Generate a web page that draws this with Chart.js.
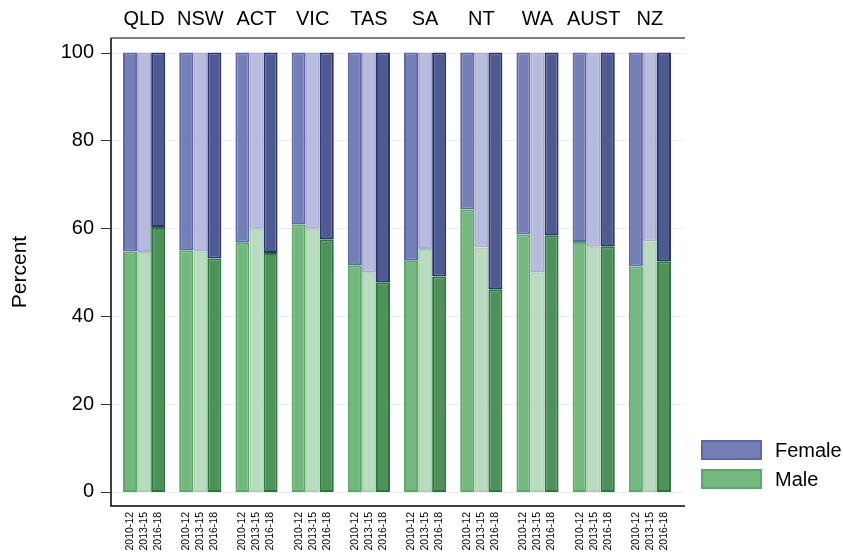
<!DOCTYPE html>
<html>
<head>
<meta charset="utf-8">
<script src="https://cdn.jsdelivr.net/npm/chart.js@4"></script>
<style>
  body { margin: 0; background: #fff; }
  #wrap { width: 843px; height: 554px; }
</style>
</head>
<body>
<div id="wrap"><canvas id="chart" width="843" height="554"></canvas></div>
<script>
const categories = ['QLD', 'NSW', 'ACT', 'VIC', 'TAS', 'SA', 'NT', 'WA', 'AUST', 'NZ'];
const periods = ['2010-12', '2013-15', '2016-18'];

const male2010 = [54.7, 55.0, 56.7, 60.9, 51.6, 52.6, 64.3, 58.6, 56.9, 51.3];
const male2013 = [54.6, 54.8, 59.9, 59.9, 49.9, 55.3, 55.6, 50.0, 55.8, 57.0];
const male2016 = [60.3, 53.1, 54.4, 57.5, 47.7, 49.0, 46.1, 58.4, 55.9, 52.5];

const female2010 = [45.3, 45.0, 43.3, 39.1, 48.4, 47.4, 35.7, 41.4, 43.1, 48.7];
const female2013 = [45.4, 45.2, 40.1, 40.1, 50.1, 44.7, 44.4, 50.0, 44.2, 43.0];
const female2016 = [39.7, 46.9, 45.6, 42.5, 52.3, 51.0, 53.9, 41.6, 44.1, 47.5];

const yTicks = [0, 20, 40, 60, 80, 100];

const FONT = "'Liberation Sans', Arial, sans-serif";

// colours per period: [male fill, male border, female fill, female border]
const colours = [
    ['#74b77f', '#5aa967', '#7480b5', '#5b67a8'],
    ['#badbc0', '#a8d2b0', '#b8bcdc', '#a6aad2'],
    ['#4f9259', '#27763a', '#4e5b92', '#29346f']
];

const maleData = [male2010, male2013, male2016];
const femaleData = [female2010, female2013, female2016];

const datasets = [];
periods.forEach((p, i) => {
    datasets.push({
        label: 'Male',
        period: p,
        data: maleData[i],
        stack: p,
        backgroundColor: colours[i][0],
        borderColor: colours[i][1],
        borderWidth: 2,
        borderSkipped: false
    });
    datasets.push({
        label: 'Female',
        period: p,
        data: femaleData[i],
        stack: p,
        backgroundColor: colours[i][2],
        borderColor: colours[i][3],
        borderWidth: 2,
        borderSkipped: false
    });
});

const FRAME_L = 111, FRAME_R = 685;

const decorations = {
    id: 'decorations',
    beforeDatasetsDraw(chart) {
        const c = chart.ctx;
        const y = chart.scales.y;
        c.save();
        c.strokeStyle = '#e9f1f1';
        c.lineWidth = 1;
        yTicks.forEach(t => {
            const py = Math.round(y.getPixelForValue(t)) + 0.5;
            c.beginPath();
            c.moveTo(FRAME_L, py);
            c.lineTo(FRAME_R, py);
            c.stroke();
        });
        c.restore();
    },
    afterDraw(chart) {
        const c = chart.ctx;
        const a = chart.chartArea;
        const y = chart.scales.y;
        c.save();
        // frame
        c.lineWidth = 1.5;
        c.strokeStyle = '#555';
        c.beginPath();
        c.moveTo(FRAME_L, a.top);
        c.lineTo(FRAME_R, a.top);
        c.stroke();
        c.strokeStyle = '#000';
        c.beginPath();
        c.moveTo(FRAME_L, a.top);
        c.lineTo(FRAME_L, a.bottom);
        c.lineTo(FRAME_R, a.bottom);
        c.stroke();
        // y tick marks
        c.lineWidth = 1;
        c.strokeStyle = '#333';
        yTicks.forEach(t => {
            const py = Math.round(y.getPixelForValue(t)) + 0.5;
            c.beginPath();
            c.moveTo(FRAME_L - 10, py);
            c.lineTo(FRAME_L, py);
            c.stroke();
        });
        // period labels under each bar
        c.fillStyle = '#000';
        c.font = '10.5px ' + FONT;
        c.textAlign = 'right';
        c.textBaseline = 'middle';
        chart.data.datasets.forEach((ds, di) => {
            if (ds.label !== 'Male') return;
            chart.getDatasetMeta(di).data.forEach(bar => {
                c.save();
                c.translate(bar.x, a.bottom + 6);
                c.rotate(-Math.PI / 2);
                c.fillText(ds.period, 0, 0);
                c.restore();
            });
        });
        // legend
        const items = [['Female', colours[0][2], colours[0][3], 440], ['Male', colours[0][0], colours[0][1], 469]];
        c.font = '20px ' + FONT;
        c.textAlign = 'left';
        items.forEach(([txt, fill, border, top]) => {
            c.fillStyle = fill;
            c.fillRect(701, top, 61, 20);
            c.strokeStyle = border;
            c.lineWidth = 2;
            c.strokeRect(702, top + 1, 59, 18);
            c.fillStyle = '#000';
            c.fillText(txt, 775, top + 11);
        });
        c.restore();
    }
};

new Chart(document.getElementById('chart'), {
    type: 'bar',
    data: { labels: categories, datasets: datasets },
    plugins: [decorations],
    options: {
        responsive: false,
        animation: false,
        layout: { padding: { left: 0, right: 165, top: 0, bottom: 0 } },
        datasets: { bar: { categoryPercentage: 0.75, barPercentage: 1.0 } },
        plugins: { legend: { display: false }, tooltip: { enabled: false } },
        scales: {
            x: {
                stacked: true,
                offset: true,
                grid: { display: false },
                border: { display: false },
                ticks: { display: false },
                afterFit: s => { s.height = 48; }
            },
            xTop: {
                type: 'category',
                position: 'top',
                labels: categories,
                offset: true,
                grid: { display: false },
                border: { display: false },
                ticks: {
                    autoSkip: false, maxRotation: 0, padding: -1,
                    color: '#000', font: { family: FONT, size: 20 }
                },
                afterFit: s => { s.height = 38; }
            },
            y: {
                stacked: true,
                min: -3.2,
                max: 103.3,
                grid: { display: false },
                border: { display: false },
                afterBuildTicks: s => { s.ticks = yTicks.map(v => ({ value: v })); },
                ticks: {
                    padding: 14,
                    color: '#000', font: { family: FONT, size: 20 }
                },
                title: {
                    display: true, text: 'Percent', color: '#000',
                    font: { family: FONT, size: 21 }, padding: { top: 8 }
                },
                afterFit: s => { s.width = 116; }
            }
        }
    }
});
</script>
</body>
</html>
